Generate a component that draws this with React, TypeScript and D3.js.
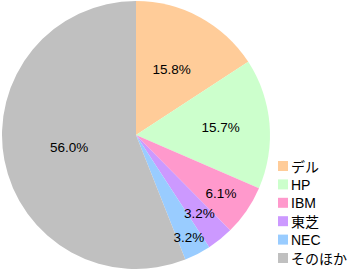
import React from "react";
import * as d3 from "d3";

const categories = ["デル", "HP", "IBM", "東芝", "NEC", "そのほか"];
const shares = [15.8, 15.7, 6.1, 3.2, 3.2, 56.0];
const colors = ["#FFCC99", "#CCFFCC", "#FF99CC", "#CC99FF", "#99CCFF", "#C0C0C0"];
// layout: radius at which each percentage label is centred
const labelRadius = [75, 85, 103, 101, 115, 68];

const W = 349;
const H = 273;
const cx = 136;
const cy = 135;
const R = 134;

export default function App() {
  const pie = d3.pie<number>().sort(null).value((d) => d);
  const arcs = pie(shares);
  const arcGen = d3.arc<d3.PieArcDatum<number>>().innerRadius(0).outerRadius(R);
  const legendY = d3.scalePoint<string>().domain(categories).range([166, 258]);
  const font = "'Liberation Sans', Arial, 'Noto Sans CJK JP', sans-serif";

  return (
    <svg
      width={W}
      height={H}
      style={{ position: "absolute", left: 0, top: 0, background: "#fff" }}
    >
      <g transform={`translate(${cx},${cy})`}>
        {arcs.map((a, i) => (
          <path key={i} d={arcGen(a) || ""} fill={colors[i]} />
        ))}
        {arcs.map((a, i) => {
          const mid = (a.startAngle + a.endAngle) / 2;
          const r = labelRadius[i];
          const x = Math.sin(mid) * r;
          const y = -Math.cos(mid) * r;
          return (
            <text
              key={"l" + i}
              x={x}
              y={y}
              textAnchor="middle"
              dominantBaseline="central"
              fontSize={13.5}
              fontFamily={font}
              fill="#000"
            >
              {shares[i].toFixed(1)}%
            </text>
          );
        })}
      </g>
      <g>
        {categories.map((c, i) => (
          <g key={c} transform={`translate(278,${legendY(c)})`}>
            <rect x={0} y={-5} width={10} height={10} fill={colors[i]} />
            <text
              x={13}
              y={0.5}
              dominantBaseline="central"
              fontSize={14}
              fontFamily={font}
              fill="#000"
            >
              {c}
            </text>
          </g>
        ))}
      </g>
    </svg>
  );
}
